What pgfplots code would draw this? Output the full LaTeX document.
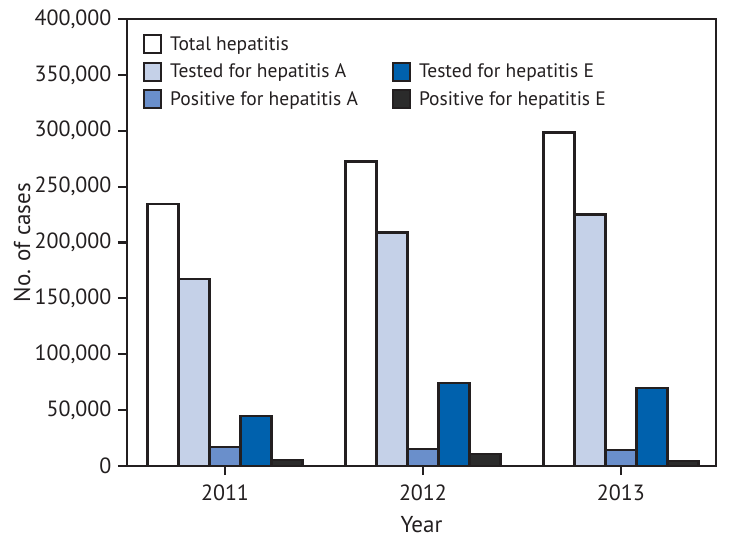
\documentclass[border=0pt]{standalone}
\usepackage{fontspec}
\setmainfont{PT Sans}
\usepackage{pgfplots}
\pgfplotsset{compat=1.18}

\definecolor{edge}{HTML}{231F20}
\definecolor{lightA}{HTML}{C5D1E8}
\definecolor{midA}{HTML}{6A8FCB}
\definecolor{blueE}{HTML}{0061AD}
\definecolor{darkE}{HTML}{2B2B2B}

\begin{document}
\begin{tikzpicture}
  \begin{axis}[
      scale only axis,
      width=589pt, height=447pt,
      xmin=-0.495, xmax=2.48,
      ymin=0, ymax=400000,
      xtick={0,1,2}, xticklabels={2011,2012,2013},
      ytick={0,50000,...,400000},
      scaled y ticks=false,
      /pgf/number format/fixed,
      /pgf/number format/1000 sep={,},
      /pgf/number format/assume math mode=true,
      tick align=outside,
      major tick length=9pt,
      tick style={line width=2.2pt, color=edge},
      axis line style={line width=2.4pt, color=edge},
      xtick pos=bottom, ytick pos=left,
      ticklabel style={font=\fontsize{22}{26}\selectfont, color=edge},
      xticklabel style={yshift=-6pt},
      yticklabel style={xshift=-3pt},
      xlabel={Year}, ylabel={No. of cases},
      label style={font=\fontsize{23}{27}\selectfont, color=edge},
      xlabel style={at={(axis description cs:0.5,-0.13)}, anchor=center},
      ylabel style={at={(axis description cs:-0.178,0.5)}, anchor=center, rotate=0},
      every axis plot/.append style={ybar, bar width=31pt, draw=edge, line width=2.2pt},
      legend columns=2,
      legend cell align=left,
      legend style={at={(axis description cs:0,1)}, anchor=north west,
        xshift=16pt, yshift=-15pt, draw=none, fill=none, inner sep=0pt,
        font=\fontsize{19.5}{23}\selectfont, text=edge,
        row sep=7.5pt,
        /tikz/column 2/.style={column sep=32pt}},
      legend image code/.code={%
        \draw[#1, line width=2pt] (0pt,-9pt) rectangle (17pt,9pt);
        \path[draw=none, fill=none] (0pt,0pt) -- (24pt,0pt);},
    ]
    % Total hepatitis
    \addplot[fill=white, bar shift=-62pt, forget plot] coordinates {(0,234500) (1,272500) (2,298500)};
    % Tested for hepatitis A
    \addplot[fill=lightA, bar shift=-31pt, forget plot] coordinates {(0,167000) (1,209000) (2,225000)};
    % Positive for hepatitis A
    \addplot[fill=midA, bar shift=0pt, forget plot] coordinates {(0,16700) (1,15000) (2,14300)};
    % Tested for hepatitis E
    \addplot[fill=blueE, bar shift=31pt, forget plot] coordinates {(0,44500) (1,74000) (2,69500)};
    % Positive for hepatitis E
    \addplot[fill=darkE, bar shift=62pt, forget plot] coordinates {(0,5400) (1,11000) (2,4800)};

    \addlegendimage{fill=white, draw=edge}
    \addlegendentry{Total hepatitis}
    \addlegendimage{empty legend}
    \addlegendentry{}
    \addlegendimage{fill=lightA, draw=edge}
    \addlegendentry{Tested for hepatitis A}
    \addlegendimage{fill=blueE, draw=edge}
    \addlegendentry{Tested for hepatitis E}
    \addlegendimage{fill=midA, draw=edge}
    \addlegendentry{Positive for hepatitis A}
    \addlegendimage{fill=darkE, draw=edge}
    \addlegendentry{Positive for hepatitis E}
  \end{axis}
  \path (-127pt,-78pt) rectangle (607pt,466pt);
\end{tikzpicture}
\end{document}
